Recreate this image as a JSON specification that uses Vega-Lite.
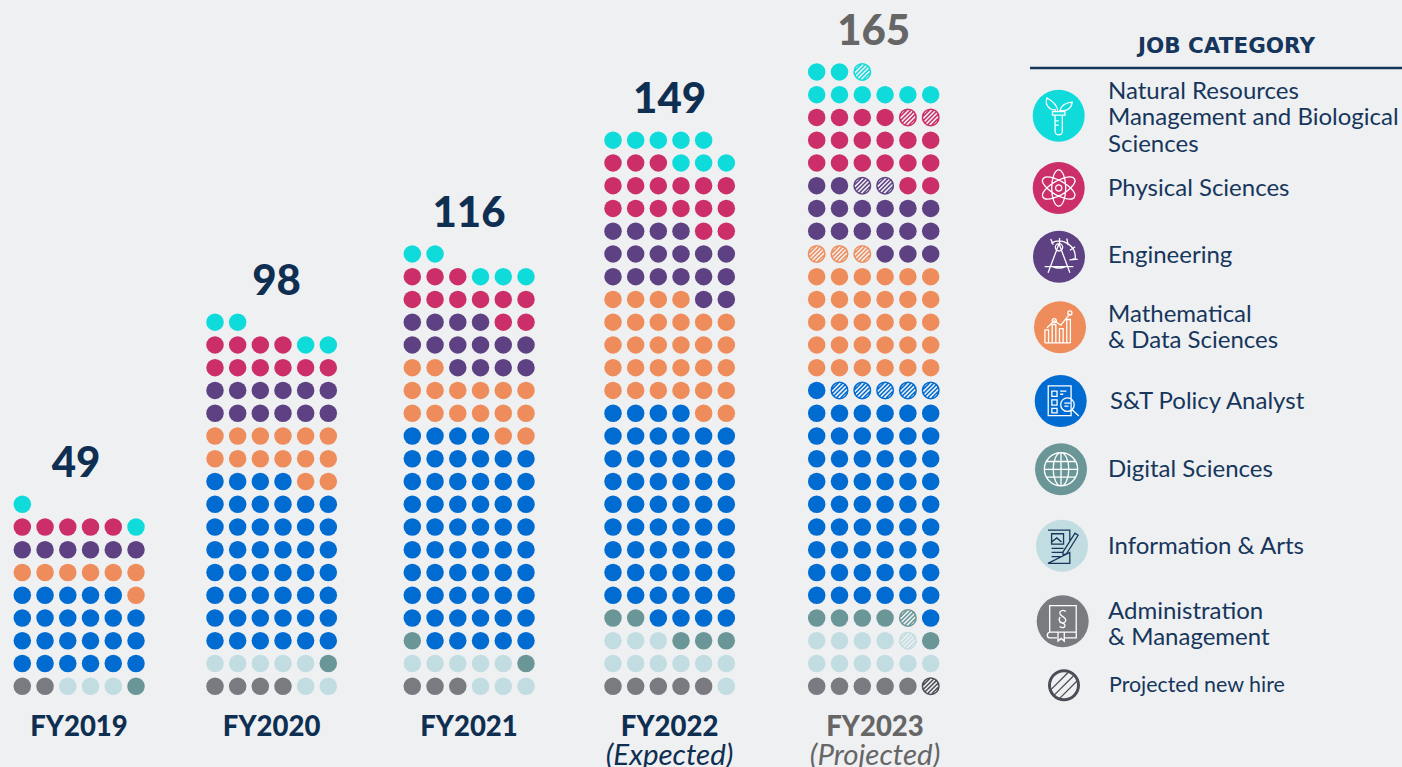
{"$schema":"https://vega.github.io/schema/vega-lite/v6.json","background":"#eff0f2","padding":0,"spacing":0,"bounds":"flush","config":{"view":{"stroke":null}},
"datasets":{"years":[{"fy":2019,"caption":"FY2019","note":""},{"fy":2020,"caption":"FY2020","note":""},{"fy":2021,"caption":"FY2021","note":""},{"fy":2022,"caption":"FY2022","note":"(Expected)"},{"fy":2023,"caption":"FY2023","note":"(Projected)"}],
"legend":[{"order":0,"job":"Nat","label":"Natural Resources|Management and Biological|Sciences"},{"order":1,"job":"Phys","label":"Physical Sciences"},{"order":2,"job":"Eng","label":"Engineering"},{"order":3,"job":"Math","label":"Mathematical|& Data Sciences"},{"order":4,"job":"Policy","label":"S&T Policy Analyst"},{"order":5,"job":"Digital","label":"Digital Sciences"},{"order":6,"job":"Info","label":"Information & Arts"},{"order":7,"job":"Admin","label":"Administration|& Management"}],
"dots":[
{"fy":2019,"col":0,"row":0,"job":"Admin"},{"fy":2019,"col":1,"row":0,"job":"Admin"},{"fy":2019,"col":2,"row":0,"job":"Info"},{"fy":2019,"col":3,"row":0,"job":"Info"},{"fy":2019,"col":4,"row":0,"job":"Info"},{"fy":2019,"col":5,"row":0,"job":"Digital"},
{"fy":2019,"col":0,"row":1,"job":"Policy"},{"fy":2019,"col":1,"row":1,"job":"Policy"},{"fy":2019,"col":2,"row":1,"job":"Policy"},{"fy":2019,"col":3,"row":1,"job":"Policy"},{"fy":2019,"col":4,"row":1,"job":"Policy"},{"fy":2019,"col":5,"row":1,"job":"Policy"},
{"fy":2019,"col":0,"row":2,"job":"Policy"},{"fy":2019,"col":1,"row":2,"job":"Policy"},{"fy":2019,"col":2,"row":2,"job":"Policy"},{"fy":2019,"col":3,"row":2,"job":"Policy"},{"fy":2019,"col":4,"row":2,"job":"Policy"},{"fy":2019,"col":5,"row":2,"job":"Policy"},
{"fy":2019,"col":0,"row":3,"job":"Policy"},{"fy":2019,"col":1,"row":3,"job":"Policy"},{"fy":2019,"col":2,"row":3,"job":"Policy"},{"fy":2019,"col":3,"row":3,"job":"Policy"},{"fy":2019,"col":4,"row":3,"job":"Policy"},{"fy":2019,"col":5,"row":3,"job":"Policy"},
{"fy":2019,"col":0,"row":4,"job":"Policy"},{"fy":2019,"col":1,"row":4,"job":"Policy"},{"fy":2019,"col":2,"row":4,"job":"Policy"},{"fy":2019,"col":3,"row":4,"job":"Policy"},{"fy":2019,"col":4,"row":4,"job":"Policy"},{"fy":2019,"col":5,"row":4,"job":"Math"},
{"fy":2019,"col":0,"row":5,"job":"Math"},{"fy":2019,"col":1,"row":5,"job":"Math"},{"fy":2019,"col":2,"row":5,"job":"Math"},{"fy":2019,"col":3,"row":5,"job":"Math"},{"fy":2019,"col":4,"row":5,"job":"Math"},{"fy":2019,"col":5,"row":5,"job":"Math"},
{"fy":2019,"col":0,"row":6,"job":"Eng"},{"fy":2019,"col":1,"row":6,"job":"Eng"},{"fy":2019,"col":2,"row":6,"job":"Eng"},{"fy":2019,"col":3,"row":6,"job":"Eng"},{"fy":2019,"col":4,"row":6,"job":"Eng"},{"fy":2019,"col":5,"row":6,"job":"Eng"},
{"fy":2019,"col":0,"row":7,"job":"Phys"},{"fy":2019,"col":1,"row":7,"job":"Phys"},{"fy":2019,"col":2,"row":7,"job":"Phys"},{"fy":2019,"col":3,"row":7,"job":"Phys"},{"fy":2019,"col":4,"row":7,"job":"Phys"},{"fy":2019,"col":5,"row":7,"job":"Nat"},
{"fy":2019,"col":0,"row":8,"job":"Nat"},
{"fy":2020,"col":0,"row":0,"job":"Admin"},{"fy":2020,"col":1,"row":0,"job":"Admin"},{"fy":2020,"col":2,"row":0,"job":"Admin"},{"fy":2020,"col":3,"row":0,"job":"Admin"},{"fy":2020,"col":4,"row":0,"job":"Info"},{"fy":2020,"col":5,"row":0,"job":"Info"},
{"fy":2020,"col":0,"row":1,"job":"Info"},{"fy":2020,"col":1,"row":1,"job":"Info"},{"fy":2020,"col":2,"row":1,"job":"Info"},{"fy":2020,"col":3,"row":1,"job":"Info"},{"fy":2020,"col":4,"row":1,"job":"Info"},{"fy":2020,"col":5,"row":1,"job":"Digital"},
{"fy":2020,"col":0,"row":2,"job":"Policy"},{"fy":2020,"col":1,"row":2,"job":"Policy"},{"fy":2020,"col":2,"row":2,"job":"Policy"},{"fy":2020,"col":3,"row":2,"job":"Policy"},{"fy":2020,"col":4,"row":2,"job":"Policy"},{"fy":2020,"col":5,"row":2,"job":"Policy"},
{"fy":2020,"col":0,"row":3,"job":"Policy"},{"fy":2020,"col":1,"row":3,"job":"Policy"},{"fy":2020,"col":2,"row":3,"job":"Policy"},{"fy":2020,"col":3,"row":3,"job":"Policy"},{"fy":2020,"col":4,"row":3,"job":"Policy"},{"fy":2020,"col":5,"row":3,"job":"Policy"},
{"fy":2020,"col":0,"row":4,"job":"Policy"},{"fy":2020,"col":1,"row":4,"job":"Policy"},{"fy":2020,"col":2,"row":4,"job":"Policy"},{"fy":2020,"col":3,"row":4,"job":"Policy"},{"fy":2020,"col":4,"row":4,"job":"Policy"},{"fy":2020,"col":5,"row":4,"job":"Policy"},
{"fy":2020,"col":0,"row":5,"job":"Policy"},{"fy":2020,"col":1,"row":5,"job":"Policy"},{"fy":2020,"col":2,"row":5,"job":"Policy"},{"fy":2020,"col":3,"row":5,"job":"Policy"},{"fy":2020,"col":4,"row":5,"job":"Policy"},{"fy":2020,"col":5,"row":5,"job":"Policy"},
{"fy":2020,"col":0,"row":6,"job":"Policy"},{"fy":2020,"col":1,"row":6,"job":"Policy"},{"fy":2020,"col":2,"row":6,"job":"Policy"},{"fy":2020,"col":3,"row":6,"job":"Policy"},{"fy":2020,"col":4,"row":6,"job":"Policy"},{"fy":2020,"col":5,"row":6,"job":"Policy"},
{"fy":2020,"col":0,"row":7,"job":"Policy"},{"fy":2020,"col":1,"row":7,"job":"Policy"},{"fy":2020,"col":2,"row":7,"job":"Policy"},{"fy":2020,"col":3,"row":7,"job":"Policy"},{"fy":2020,"col":4,"row":7,"job":"Policy"},{"fy":2020,"col":5,"row":7,"job":"Policy"},
{"fy":2020,"col":0,"row":8,"job":"Policy"},{"fy":2020,"col":1,"row":8,"job":"Policy"},{"fy":2020,"col":2,"row":8,"job":"Policy"},{"fy":2020,"col":3,"row":8,"job":"Policy"},{"fy":2020,"col":4,"row":8,"job":"Policy"},{"fy":2020,"col":5,"row":8,"job":"Policy"},
{"fy":2020,"col":0,"row":9,"job":"Policy"},{"fy":2020,"col":1,"row":9,"job":"Policy"},{"fy":2020,"col":2,"row":9,"job":"Policy"},{"fy":2020,"col":3,"row":9,"job":"Policy"},{"fy":2020,"col":4,"row":9,"job":"Math"},{"fy":2020,"col":5,"row":9,"job":"Math"},
{"fy":2020,"col":0,"row":10,"job":"Math"},{"fy":2020,"col":1,"row":10,"job":"Math"},{"fy":2020,"col":2,"row":10,"job":"Math"},{"fy":2020,"col":3,"row":10,"job":"Math"},{"fy":2020,"col":4,"row":10,"job":"Math"},{"fy":2020,"col":5,"row":10,"job":"Math"},
{"fy":2020,"col":0,"row":11,"job":"Math"},{"fy":2020,"col":1,"row":11,"job":"Math"},{"fy":2020,"col":2,"row":11,"job":"Math"},{"fy":2020,"col":3,"row":11,"job":"Math"},{"fy":2020,"col":4,"row":11,"job":"Math"},{"fy":2020,"col":5,"row":11,"job":"Math"},
{"fy":2020,"col":0,"row":12,"job":"Eng"},{"fy":2020,"col":1,"row":12,"job":"Eng"},{"fy":2020,"col":2,"row":12,"job":"Eng"},{"fy":2020,"col":3,"row":12,"job":"Eng"},{"fy":2020,"col":4,"row":12,"job":"Eng"},{"fy":2020,"col":5,"row":12,"job":"Eng"},
{"fy":2020,"col":0,"row":13,"job":"Eng"},{"fy":2020,"col":1,"row":13,"job":"Eng"},{"fy":2020,"col":2,"row":13,"job":"Eng"},{"fy":2020,"col":3,"row":13,"job":"Eng"},{"fy":2020,"col":4,"row":13,"job":"Eng"},{"fy":2020,"col":5,"row":13,"job":"Eng"},
{"fy":2020,"col":0,"row":14,"job":"Phys"},{"fy":2020,"col":1,"row":14,"job":"Phys"},{"fy":2020,"col":2,"row":14,"job":"Phys"},{"fy":2020,"col":3,"row":14,"job":"Phys"},{"fy":2020,"col":4,"row":14,"job":"Phys"},{"fy":2020,"col":5,"row":14,"job":"Phys"},
{"fy":2020,"col":0,"row":15,"job":"Phys"},{"fy":2020,"col":1,"row":15,"job":"Phys"},{"fy":2020,"col":2,"row":15,"job":"Phys"},{"fy":2020,"col":3,"row":15,"job":"Phys"},{"fy":2020,"col":4,"row":15,"job":"Nat"},{"fy":2020,"col":5,"row":15,"job":"Nat"},
{"fy":2020,"col":0,"row":16,"job":"Nat"},{"fy":2020,"col":1,"row":16,"job":"Nat"},
{"fy":2021,"col":0,"row":0,"job":"Admin"},{"fy":2021,"col":1,"row":0,"job":"Admin"},{"fy":2021,"col":2,"row":0,"job":"Admin"},{"fy":2021,"col":3,"row":0,"job":"Info"},{"fy":2021,"col":4,"row":0,"job":"Info"},{"fy":2021,"col":5,"row":0,"job":"Info"},
{"fy":2021,"col":0,"row":1,"job":"Info"},{"fy":2021,"col":1,"row":1,"job":"Info"},{"fy":2021,"col":2,"row":1,"job":"Info"},{"fy":2021,"col":3,"row":1,"job":"Info"},{"fy":2021,"col":4,"row":1,"job":"Info"},{"fy":2021,"col":5,"row":1,"job":"Digital"},
{"fy":2021,"col":0,"row":2,"job":"Digital"},{"fy":2021,"col":1,"row":2,"job":"Policy"},{"fy":2021,"col":2,"row":2,"job":"Policy"},{"fy":2021,"col":3,"row":2,"job":"Policy"},{"fy":2021,"col":4,"row":2,"job":"Policy"},{"fy":2021,"col":5,"row":2,"job":"Policy"},
{"fy":2021,"col":0,"row":3,"job":"Policy"},{"fy":2021,"col":1,"row":3,"job":"Policy"},{"fy":2021,"col":2,"row":3,"job":"Policy"},{"fy":2021,"col":3,"row":3,"job":"Policy"},{"fy":2021,"col":4,"row":3,"job":"Policy"},{"fy":2021,"col":5,"row":3,"job":"Policy"},
{"fy":2021,"col":0,"row":4,"job":"Policy"},{"fy":2021,"col":1,"row":4,"job":"Policy"},{"fy":2021,"col":2,"row":4,"job":"Policy"},{"fy":2021,"col":3,"row":4,"job":"Policy"},{"fy":2021,"col":4,"row":4,"job":"Policy"},{"fy":2021,"col":5,"row":4,"job":"Policy"},
{"fy":2021,"col":0,"row":5,"job":"Policy"},{"fy":2021,"col":1,"row":5,"job":"Policy"},{"fy":2021,"col":2,"row":5,"job":"Policy"},{"fy":2021,"col":3,"row":5,"job":"Policy"},{"fy":2021,"col":4,"row":5,"job":"Policy"},{"fy":2021,"col":5,"row":5,"job":"Policy"},
{"fy":2021,"col":0,"row":6,"job":"Policy"},{"fy":2021,"col":1,"row":6,"job":"Policy"},{"fy":2021,"col":2,"row":6,"job":"Policy"},{"fy":2021,"col":3,"row":6,"job":"Policy"},{"fy":2021,"col":4,"row":6,"job":"Policy"},{"fy":2021,"col":5,"row":6,"job":"Policy"},
{"fy":2021,"col":0,"row":7,"job":"Policy"},{"fy":2021,"col":1,"row":7,"job":"Policy"},{"fy":2021,"col":2,"row":7,"job":"Policy"},{"fy":2021,"col":3,"row":7,"job":"Policy"},{"fy":2021,"col":4,"row":7,"job":"Policy"},{"fy":2021,"col":5,"row":7,"job":"Policy"},
{"fy":2021,"col":0,"row":8,"job":"Policy"},{"fy":2021,"col":1,"row":8,"job":"Policy"},{"fy":2021,"col":2,"row":8,"job":"Policy"},{"fy":2021,"col":3,"row":8,"job":"Policy"},{"fy":2021,"col":4,"row":8,"job":"Policy"},{"fy":2021,"col":5,"row":8,"job":"Policy"},
{"fy":2021,"col":0,"row":9,"job":"Policy"},{"fy":2021,"col":1,"row":9,"job":"Policy"},{"fy":2021,"col":2,"row":9,"job":"Policy"},{"fy":2021,"col":3,"row":9,"job":"Policy"},{"fy":2021,"col":4,"row":9,"job":"Policy"},{"fy":2021,"col":5,"row":9,"job":"Policy"},
{"fy":2021,"col":0,"row":10,"job":"Policy"},{"fy":2021,"col":1,"row":10,"job":"Policy"},{"fy":2021,"col":2,"row":10,"job":"Policy"},{"fy":2021,"col":3,"row":10,"job":"Policy"},{"fy":2021,"col":4,"row":10,"job":"Policy"},{"fy":2021,"col":5,"row":10,"job":"Policy"},
{"fy":2021,"col":0,"row":11,"job":"Policy"},{"fy":2021,"col":1,"row":11,"job":"Policy"},{"fy":2021,"col":2,"row":11,"job":"Policy"},{"fy":2021,"col":3,"row":11,"job":"Policy"},{"fy":2021,"col":4,"row":11,"job":"Math"},{"fy":2021,"col":5,"row":11,"job":"Math"},
{"fy":2021,"col":0,"row":12,"job":"Math"},{"fy":2021,"col":1,"row":12,"job":"Math"},{"fy":2021,"col":2,"row":12,"job":"Math"},{"fy":2021,"col":3,"row":12,"job":"Math"},{"fy":2021,"col":4,"row":12,"job":"Math"},{"fy":2021,"col":5,"row":12,"job":"Math"},
{"fy":2021,"col":0,"row":13,"job":"Math"},{"fy":2021,"col":1,"row":13,"job":"Math"},{"fy":2021,"col":2,"row":13,"job":"Math"},{"fy":2021,"col":3,"row":13,"job":"Math"},{"fy":2021,"col":4,"row":13,"job":"Math"},{"fy":2021,"col":5,"row":13,"job":"Math"},
{"fy":2021,"col":0,"row":14,"job":"Math"},{"fy":2021,"col":1,"row":14,"job":"Math"},{"fy":2021,"col":2,"row":14,"job":"Eng"},{"fy":2021,"col":3,"row":14,"job":"Eng"},{"fy":2021,"col":4,"row":14,"job":"Eng"},{"fy":2021,"col":5,"row":14,"job":"Eng"},
{"fy":2021,"col":0,"row":15,"job":"Eng"},{"fy":2021,"col":1,"row":15,"job":"Eng"},{"fy":2021,"col":2,"row":15,"job":"Eng"},{"fy":2021,"col":3,"row":15,"job":"Eng"},{"fy":2021,"col":4,"row":15,"job":"Eng"},{"fy":2021,"col":5,"row":15,"job":"Eng"},
{"fy":2021,"col":0,"row":16,"job":"Eng"},{"fy":2021,"col":1,"row":16,"job":"Eng"},{"fy":2021,"col":2,"row":16,"job":"Eng"},{"fy":2021,"col":3,"row":16,"job":"Eng"},{"fy":2021,"col":4,"row":16,"job":"Phys"},{"fy":2021,"col":5,"row":16,"job":"Phys"},
{"fy":2021,"col":0,"row":17,"job":"Phys"},{"fy":2021,"col":1,"row":17,"job":"Phys"},{"fy":2021,"col":2,"row":17,"job":"Phys"},{"fy":2021,"col":3,"row":17,"job":"Phys"},{"fy":2021,"col":4,"row":17,"job":"Phys"},{"fy":2021,"col":5,"row":17,"job":"Phys"},
{"fy":2021,"col":0,"row":18,"job":"Phys"},{"fy":2021,"col":1,"row":18,"job":"Phys"},{"fy":2021,"col":2,"row":18,"job":"Phys"},{"fy":2021,"col":3,"row":18,"job":"Nat"},{"fy":2021,"col":4,"row":18,"job":"Nat"},{"fy":2021,"col":5,"row":18,"job":"Nat"},
{"fy":2021,"col":0,"row":19,"job":"Nat"},{"fy":2021,"col":1,"row":19,"job":"Nat"},
{"fy":2022,"col":0,"row":0,"job":"Admin"},{"fy":2022,"col":1,"row":0,"job":"Admin"},{"fy":2022,"col":2,"row":0,"job":"Admin"},{"fy":2022,"col":3,"row":0,"job":"Admin"},{"fy":2022,"col":4,"row":0,"job":"Admin"},{"fy":2022,"col":5,"row":0,"job":"Info"},
{"fy":2022,"col":0,"row":1,"job":"Info"},{"fy":2022,"col":1,"row":1,"job":"Info"},{"fy":2022,"col":2,"row":1,"job":"Info"},{"fy":2022,"col":3,"row":1,"job":"Info"},{"fy":2022,"col":4,"row":1,"job":"Info"},{"fy":2022,"col":5,"row":1,"job":"Info"},
{"fy":2022,"col":0,"row":2,"job":"Info"},{"fy":2022,"col":1,"row":2,"job":"Info"},{"fy":2022,"col":2,"row":2,"job":"Info"},{"fy":2022,"col":3,"row":2,"job":"Digital"},{"fy":2022,"col":4,"row":2,"job":"Digital"},{"fy":2022,"col":5,"row":2,"job":"Digital"},
{"fy":2022,"col":0,"row":3,"job":"Digital"},{"fy":2022,"col":1,"row":3,"job":"Digital"},{"fy":2022,"col":2,"row":3,"job":"Policy"},{"fy":2022,"col":3,"row":3,"job":"Policy"},{"fy":2022,"col":4,"row":3,"job":"Policy"},{"fy":2022,"col":5,"row":3,"job":"Policy"},
{"fy":2022,"col":0,"row":4,"job":"Policy"},{"fy":2022,"col":1,"row":4,"job":"Policy"},{"fy":2022,"col":2,"row":4,"job":"Policy"},{"fy":2022,"col":3,"row":4,"job":"Policy"},{"fy":2022,"col":4,"row":4,"job":"Policy"},{"fy":2022,"col":5,"row":4,"job":"Policy"},
{"fy":2022,"col":0,"row":5,"job":"Policy"},{"fy":2022,"col":1,"row":5,"job":"Policy"},{"fy":2022,"col":2,"row":5,"job":"Policy"},{"fy":2022,"col":3,"row":5,"job":"Policy"},{"fy":2022,"col":4,"row":5,"job":"Policy"},{"fy":2022,"col":5,"row":5,"job":"Policy"},
{"fy":2022,"col":0,"row":6,"job":"Policy"},{"fy":2022,"col":1,"row":6,"job":"Policy"},{"fy":2022,"col":2,"row":6,"job":"Policy"},{"fy":2022,"col":3,"row":6,"job":"Policy"},{"fy":2022,"col":4,"row":6,"job":"Policy"},{"fy":2022,"col":5,"row":6,"job":"Policy"},
{"fy":2022,"col":0,"row":7,"job":"Policy"},{"fy":2022,"col":1,"row":7,"job":"Policy"},{"fy":2022,"col":2,"row":7,"job":"Policy"},{"fy":2022,"col":3,"row":7,"job":"Policy"},{"fy":2022,"col":4,"row":7,"job":"Policy"},{"fy":2022,"col":5,"row":7,"job":"Policy"},
{"fy":2022,"col":0,"row":8,"job":"Policy"},{"fy":2022,"col":1,"row":8,"job":"Policy"},{"fy":2022,"col":2,"row":8,"job":"Policy"},{"fy":2022,"col":3,"row":8,"job":"Policy"},{"fy":2022,"col":4,"row":8,"job":"Policy"},{"fy":2022,"col":5,"row":8,"job":"Policy"},
{"fy":2022,"col":0,"row":9,"job":"Policy"},{"fy":2022,"col":1,"row":9,"job":"Policy"},{"fy":2022,"col":2,"row":9,"job":"Policy"},{"fy":2022,"col":3,"row":9,"job":"Policy"},{"fy":2022,"col":4,"row":9,"job":"Policy"},{"fy":2022,"col":5,"row":9,"job":"Policy"},
{"fy":2022,"col":0,"row":10,"job":"Policy"},{"fy":2022,"col":1,"row":10,"job":"Policy"},{"fy":2022,"col":2,"row":10,"job":"Policy"},{"fy":2022,"col":3,"row":10,"job":"Policy"},{"fy":2022,"col":4,"row":10,"job":"Policy"},{"fy":2022,"col":5,"row":10,"job":"Policy"},
{"fy":2022,"col":0,"row":11,"job":"Policy"},{"fy":2022,"col":1,"row":11,"job":"Policy"},{"fy":2022,"col":2,"row":11,"job":"Policy"},{"fy":2022,"col":3,"row":11,"job":"Policy"},{"fy":2022,"col":4,"row":11,"job":"Policy"},{"fy":2022,"col":5,"row":11,"job":"Policy"},
{"fy":2022,"col":0,"row":12,"job":"Policy"},{"fy":2022,"col":1,"row":12,"job":"Policy"},{"fy":2022,"col":2,"row":12,"job":"Policy"},{"fy":2022,"col":3,"row":12,"job":"Policy"},{"fy":2022,"col":4,"row":12,"job":"Math"},{"fy":2022,"col":5,"row":12,"job":"Math"},
{"fy":2022,"col":0,"row":13,"job":"Math"},{"fy":2022,"col":1,"row":13,"job":"Math"},{"fy":2022,"col":2,"row":13,"job":"Math"},{"fy":2022,"col":3,"row":13,"job":"Math"},{"fy":2022,"col":4,"row":13,"job":"Math"},{"fy":2022,"col":5,"row":13,"job":"Math"},
{"fy":2022,"col":0,"row":14,"job":"Math"},{"fy":2022,"col":1,"row":14,"job":"Math"},{"fy":2022,"col":2,"row":14,"job":"Math"},{"fy":2022,"col":3,"row":14,"job":"Math"},{"fy":2022,"col":4,"row":14,"job":"Math"},{"fy":2022,"col":5,"row":14,"job":"Math"},
{"fy":2022,"col":0,"row":15,"job":"Math"},{"fy":2022,"col":1,"row":15,"job":"Math"},{"fy":2022,"col":2,"row":15,"job":"Math"},{"fy":2022,"col":3,"row":15,"job":"Math"},{"fy":2022,"col":4,"row":15,"job":"Math"},{"fy":2022,"col":5,"row":15,"job":"Math"},
{"fy":2022,"col":0,"row":16,"job":"Math"},{"fy":2022,"col":1,"row":16,"job":"Math"},{"fy":2022,"col":2,"row":16,"job":"Math"},{"fy":2022,"col":3,"row":16,"job":"Math"},{"fy":2022,"col":4,"row":16,"job":"Math"},{"fy":2022,"col":5,"row":16,"job":"Math"},
{"fy":2022,"col":0,"row":17,"job":"Math"},{"fy":2022,"col":1,"row":17,"job":"Math"},{"fy":2022,"col":2,"row":17,"job":"Math"},{"fy":2022,"col":3,"row":17,"job":"Math"},{"fy":2022,"col":4,"row":17,"job":"Eng"},{"fy":2022,"col":5,"row":17,"job":"Eng"},
{"fy":2022,"col":0,"row":18,"job":"Eng"},{"fy":2022,"col":1,"row":18,"job":"Eng"},{"fy":2022,"col":2,"row":18,"job":"Eng"},{"fy":2022,"col":3,"row":18,"job":"Eng"},{"fy":2022,"col":4,"row":18,"job":"Eng"},{"fy":2022,"col":5,"row":18,"job":"Eng"},
{"fy":2022,"col":0,"row":19,"job":"Eng"},{"fy":2022,"col":1,"row":19,"job":"Eng"},{"fy":2022,"col":2,"row":19,"job":"Eng"},{"fy":2022,"col":3,"row":19,"job":"Eng"},{"fy":2022,"col":4,"row":19,"job":"Eng"},{"fy":2022,"col":5,"row":19,"job":"Eng"},
{"fy":2022,"col":0,"row":20,"job":"Eng"},{"fy":2022,"col":1,"row":20,"job":"Eng"},{"fy":2022,"col":2,"row":20,"job":"Eng"},{"fy":2022,"col":3,"row":20,"job":"Eng"},{"fy":2022,"col":4,"row":20,"job":"Phys"},{"fy":2022,"col":5,"row":20,"job":"Phys"},
{"fy":2022,"col":0,"row":21,"job":"Phys"},{"fy":2022,"col":1,"row":21,"job":"Phys"},{"fy":2022,"col":2,"row":21,"job":"Phys"},{"fy":2022,"col":3,"row":21,"job":"Phys"},{"fy":2022,"col":4,"row":21,"job":"Phys"},{"fy":2022,"col":5,"row":21,"job":"Phys"},
{"fy":2022,"col":0,"row":22,"job":"Phys"},{"fy":2022,"col":1,"row":22,"job":"Phys"},{"fy":2022,"col":2,"row":22,"job":"Phys"},{"fy":2022,"col":3,"row":22,"job":"Phys"},{"fy":2022,"col":4,"row":22,"job":"Phys"},{"fy":2022,"col":5,"row":22,"job":"Phys"},
{"fy":2022,"col":0,"row":23,"job":"Phys"},{"fy":2022,"col":1,"row":23,"job":"Phys"},{"fy":2022,"col":2,"row":23,"job":"Phys"},{"fy":2022,"col":3,"row":23,"job":"Nat"},{"fy":2022,"col":4,"row":23,"job":"Nat"},{"fy":2022,"col":5,"row":23,"job":"Nat"},
{"fy":2022,"col":0,"row":24,"job":"Nat"},{"fy":2022,"col":1,"row":24,"job":"Nat"},{"fy":2022,"col":2,"row":24,"job":"Nat"},{"fy":2022,"col":3,"row":24,"job":"Nat"},{"fy":2022,"col":4,"row":24,"job":"Nat"},
{"fy":2023,"col":0,"row":0,"job":"Admin"},{"fy":2023,"col":1,"row":0,"job":"Admin"},{"fy":2023,"col":2,"row":0,"job":"Admin"},{"fy":2023,"col":3,"row":0,"job":"Admin"},{"fy":2023,"col":4,"row":0,"job":"Admin"},{"fy":2023,"col":5,"row":0,"job":"Admin","new":true},
{"fy":2023,"col":0,"row":1,"job":"Info"},{"fy":2023,"col":1,"row":1,"job":"Info"},{"fy":2023,"col":2,"row":1,"job":"Info"},{"fy":2023,"col":3,"row":1,"job":"Info"},{"fy":2023,"col":4,"row":1,"job":"Info"},{"fy":2023,"col":5,"row":1,"job":"Info"},
{"fy":2023,"col":0,"row":2,"job":"Info"},{"fy":2023,"col":1,"row":2,"job":"Info"},{"fy":2023,"col":2,"row":2,"job":"Info"},{"fy":2023,"col":3,"row":2,"job":"Info"},{"fy":2023,"col":4,"row":2,"job":"Info","new":true},{"fy":2023,"col":5,"row":2,"job":"Digital"},
{"fy":2023,"col":0,"row":3,"job":"Digital"},{"fy":2023,"col":1,"row":3,"job":"Digital"},{"fy":2023,"col":2,"row":3,"job":"Digital"},{"fy":2023,"col":3,"row":3,"job":"Digital"},{"fy":2023,"col":4,"row":3,"job":"Digital","new":true},{"fy":2023,"col":5,"row":3,"job":"Policy"},
{"fy":2023,"col":0,"row":4,"job":"Policy"},{"fy":2023,"col":1,"row":4,"job":"Policy"},{"fy":2023,"col":2,"row":4,"job":"Policy"},{"fy":2023,"col":3,"row":4,"job":"Policy"},{"fy":2023,"col":4,"row":4,"job":"Policy"},{"fy":2023,"col":5,"row":4,"job":"Policy"},
{"fy":2023,"col":0,"row":5,"job":"Policy"},{"fy":2023,"col":1,"row":5,"job":"Policy"},{"fy":2023,"col":2,"row":5,"job":"Policy"},{"fy":2023,"col":3,"row":5,"job":"Policy"},{"fy":2023,"col":4,"row":5,"job":"Policy"},{"fy":2023,"col":5,"row":5,"job":"Policy"},
{"fy":2023,"col":0,"row":6,"job":"Policy"},{"fy":2023,"col":1,"row":6,"job":"Policy"},{"fy":2023,"col":2,"row":6,"job":"Policy"},{"fy":2023,"col":3,"row":6,"job":"Policy"},{"fy":2023,"col":4,"row":6,"job":"Policy"},{"fy":2023,"col":5,"row":6,"job":"Policy"},
{"fy":2023,"col":0,"row":7,"job":"Policy"},{"fy":2023,"col":1,"row":7,"job":"Policy"},{"fy":2023,"col":2,"row":7,"job":"Policy"},{"fy":2023,"col":3,"row":7,"job":"Policy"},{"fy":2023,"col":4,"row":7,"job":"Policy"},{"fy":2023,"col":5,"row":7,"job":"Policy"},
{"fy":2023,"col":0,"row":8,"job":"Policy"},{"fy":2023,"col":1,"row":8,"job":"Policy"},{"fy":2023,"col":2,"row":8,"job":"Policy"},{"fy":2023,"col":3,"row":8,"job":"Policy"},{"fy":2023,"col":4,"row":8,"job":"Policy"},{"fy":2023,"col":5,"row":8,"job":"Policy"},
{"fy":2023,"col":0,"row":9,"job":"Policy"},{"fy":2023,"col":1,"row":9,"job":"Policy"},{"fy":2023,"col":2,"row":9,"job":"Policy"},{"fy":2023,"col":3,"row":9,"job":"Policy"},{"fy":2023,"col":4,"row":9,"job":"Policy"},{"fy":2023,"col":5,"row":9,"job":"Policy"},
{"fy":2023,"col":0,"row":10,"job":"Policy"},{"fy":2023,"col":1,"row":10,"job":"Policy"},{"fy":2023,"col":2,"row":10,"job":"Policy"},{"fy":2023,"col":3,"row":10,"job":"Policy"},{"fy":2023,"col":4,"row":10,"job":"Policy"},{"fy":2023,"col":5,"row":10,"job":"Policy"},
{"fy":2023,"col":0,"row":11,"job":"Policy"},{"fy":2023,"col":1,"row":11,"job":"Policy"},{"fy":2023,"col":2,"row":11,"job":"Policy"},{"fy":2023,"col":3,"row":11,"job":"Policy"},{"fy":2023,"col":4,"row":11,"job":"Policy"},{"fy":2023,"col":5,"row":11,"job":"Policy"},
{"fy":2023,"col":0,"row":12,"job":"Policy"},{"fy":2023,"col":1,"row":12,"job":"Policy"},{"fy":2023,"col":2,"row":12,"job":"Policy"},{"fy":2023,"col":3,"row":12,"job":"Policy"},{"fy":2023,"col":4,"row":12,"job":"Policy"},{"fy":2023,"col":5,"row":12,"job":"Policy"},
{"fy":2023,"col":0,"row":13,"job":"Policy"},{"fy":2023,"col":1,"row":13,"job":"Policy","new":true},{"fy":2023,"col":2,"row":13,"job":"Policy","new":true},{"fy":2023,"col":3,"row":13,"job":"Policy","new":true},{"fy":2023,"col":4,"row":13,"job":"Policy","new":true},{"fy":2023,"col":5,"row":13,"job":"Policy","new":true},
{"fy":2023,"col":0,"row":14,"job":"Math"},{"fy":2023,"col":1,"row":14,"job":"Math"},{"fy":2023,"col":2,"row":14,"job":"Math"},{"fy":2023,"col":3,"row":14,"job":"Math"},{"fy":2023,"col":4,"row":14,"job":"Math"},{"fy":2023,"col":5,"row":14,"job":"Math"},
{"fy":2023,"col":0,"row":15,"job":"Math"},{"fy":2023,"col":1,"row":15,"job":"Math"},{"fy":2023,"col":2,"row":15,"job":"Math"},{"fy":2023,"col":3,"row":15,"job":"Math"},{"fy":2023,"col":4,"row":15,"job":"Math"},{"fy":2023,"col":5,"row":15,"job":"Math"},
{"fy":2023,"col":0,"row":16,"job":"Math"},{"fy":2023,"col":1,"row":16,"job":"Math"},{"fy":2023,"col":2,"row":16,"job":"Math"},{"fy":2023,"col":3,"row":16,"job":"Math"},{"fy":2023,"col":4,"row":16,"job":"Math"},{"fy":2023,"col":5,"row":16,"job":"Math"},
{"fy":2023,"col":0,"row":17,"job":"Math"},{"fy":2023,"col":1,"row":17,"job":"Math"},{"fy":2023,"col":2,"row":17,"job":"Math"},{"fy":2023,"col":3,"row":17,"job":"Math"},{"fy":2023,"col":4,"row":17,"job":"Math"},{"fy":2023,"col":5,"row":17,"job":"Math"},
{"fy":2023,"col":0,"row":18,"job":"Math"},{"fy":2023,"col":1,"row":18,"job":"Math"},{"fy":2023,"col":2,"row":18,"job":"Math"},{"fy":2023,"col":3,"row":18,"job":"Math"},{"fy":2023,"col":4,"row":18,"job":"Math"},{"fy":2023,"col":5,"row":18,"job":"Math"},
{"fy":2023,"col":0,"row":19,"job":"Math","new":true},{"fy":2023,"col":1,"row":19,"job":"Math","new":true},{"fy":2023,"col":2,"row":19,"job":"Math","new":true},{"fy":2023,"col":3,"row":19,"job":"Eng"},{"fy":2023,"col":4,"row":19,"job":"Eng"},{"fy":2023,"col":5,"row":19,"job":"Eng"},
{"fy":2023,"col":0,"row":20,"job":"Eng"},{"fy":2023,"col":1,"row":20,"job":"Eng"},{"fy":2023,"col":2,"row":20,"job":"Eng"},{"fy":2023,"col":3,"row":20,"job":"Eng"},{"fy":2023,"col":4,"row":20,"job":"Eng"},{"fy":2023,"col":5,"row":20,"job":"Eng"},
{"fy":2023,"col":0,"row":21,"job":"Eng"},{"fy":2023,"col":1,"row":21,"job":"Eng"},{"fy":2023,"col":2,"row":21,"job":"Eng"},{"fy":2023,"col":3,"row":21,"job":"Eng"},{"fy":2023,"col":4,"row":21,"job":"Eng"},{"fy":2023,"col":5,"row":21,"job":"Eng"},
{"fy":2023,"col":0,"row":22,"job":"Eng"},{"fy":2023,"col":1,"row":22,"job":"Eng"},{"fy":2023,"col":2,"row":22,"job":"Eng","new":true},{"fy":2023,"col":3,"row":22,"job":"Eng","new":true},{"fy":2023,"col":4,"row":22,"job":"Phys"},{"fy":2023,"col":5,"row":22,"job":"Phys"},
{"fy":2023,"col":0,"row":23,"job":"Phys"},{"fy":2023,"col":1,"row":23,"job":"Phys"},{"fy":2023,"col":2,"row":23,"job":"Phys"},{"fy":2023,"col":3,"row":23,"job":"Phys"},{"fy":2023,"col":4,"row":23,"job":"Phys"},{"fy":2023,"col":5,"row":23,"job":"Phys"},
{"fy":2023,"col":0,"row":24,"job":"Phys"},{"fy":2023,"col":1,"row":24,"job":"Phys"},{"fy":2023,"col":2,"row":24,"job":"Phys"},{"fy":2023,"col":3,"row":24,"job":"Phys"},{"fy":2023,"col":4,"row":24,"job":"Phys"},{"fy":2023,"col":5,"row":24,"job":"Phys"},
{"fy":2023,"col":0,"row":25,"job":"Phys"},{"fy":2023,"col":1,"row":25,"job":"Phys"},{"fy":2023,"col":2,"row":25,"job":"Phys"},{"fy":2023,"col":3,"row":25,"job":"Phys"},{"fy":2023,"col":4,"row":25,"job":"Phys","new":true},{"fy":2023,"col":5,"row":25,"job":"Phys","new":true},
{"fy":2023,"col":0,"row":26,"job":"Nat"},{"fy":2023,"col":1,"row":26,"job":"Nat"},{"fy":2023,"col":2,"row":26,"job":"Nat"},{"fy":2023,"col":3,"row":26,"job":"Nat"},{"fy":2023,"col":4,"row":26,"job":"Nat"},{"fy":2023,"col":5,"row":26,"job":"Nat"},
{"fy":2023,"col":0,"row":27,"job":"Nat"},{"fy":2023,"col":1,"row":27,"job":"Nat"},{"fy":2023,"col":2,"row":27,"job":"Nat","new":true}
]},
"hconcat":[
{"width":1020,"height":767,"resolve":{"scale":{"x":"independent"}},
"layer":[
{"data":{"name":"dots"},"transform":[{"filter":"datum.fy==2019"}],"mark":{"type":"circle","size":306,"opacity":1},
"encoding":{"x":{"field":"col","type":"quantitative","axis":null,"scale":{"domain":[0,5],"range":[22.3,136],"zero":false,"nice":false}},
"y":{"field":"row","type":"quantitative","axis":null,"scale":{"domain":[-3.55,30.16],"zero":false,"nice":false}},
"color":{"field":"job","type":"nominal","legend":null,"scale":{"domain":["Nat","Phys","Eng","Math","Policy","Digital","Info","Admin"],"range":["#0fdbdb","#cc2e69","#5d4183","#ee8d5b","#006bd1","#6b9698","#c1dde2","#7a7b81"]}}}},
{"data":{"name":"dots"},"transform":[{"filter":"datum.fy==2020"}],"mark":{"type":"circle","size":306,"opacity":1},
"encoding":{"x":{"field":"col","type":"quantitative","axis":null,"scale":{"domain":[0,5],"range":[215,328.3],"zero":false,"nice":false}},"y":{"field":"row","type":"quantitative","axis":null},"color":{"field":"job","type":"nominal","legend":null}}},
{"data":{"name":"dots"},"transform":[{"filter":"datum.fy==2021"}],"mark":{"type":"circle","size":306,"opacity":1},
"encoding":{"x":{"field":"col","type":"quantitative","axis":null,"scale":{"domain":[0,5],"range":[412.3,526],"zero":false,"nice":false}},"y":{"field":"row","type":"quantitative","axis":null},"color":{"field":"job","type":"nominal","legend":null}}},
{"data":{"name":"dots"},"transform":[{"filter":"datum.fy==2022"}],"mark":{"type":"circle","size":306,"opacity":1},
"encoding":{"x":{"field":"col","type":"quantitative","axis":null,"scale":{"domain":[0,5],"range":[613,726.3],"zero":false,"nice":false}},"y":{"field":"row","type":"quantitative","axis":null},"color":{"field":"job","type":"nominal","legend":null}}},
{"data":{"name":"dots"},"transform":[{"filter":"datum.fy==2023 && !datum.new"}],"mark":{"type":"circle","size":306,"opacity":1},
"encoding":{"x":{"field":"col","type":"quantitative","axis":null,"scale":{"domain":[0,5],"range":[816.7,930.7],"zero":false,"nice":false}},"y":{"field":"row","type":"quantitative","axis":null},"color":{"field":"job","type":"nominal","legend":null}}},
{"data":{"name":"dots"},"transform":[{"filter":"datum.fy==2023 && datum.new"}],"mark":{"type":"point","filled":false,"size":272,"opacity":1,"strokeWidth":1.5,"shape":"M-1,0 A1,1 0 1,1 1,0 A1,1 0 1,1 -1,0 Z M-.65,.65 L.65,-.65 M-.336,.856 L.856,-.336 M-.856,.336 L.336,-.856 M.13,.91 L.91,.13 M-.91,-.13 L-.13,-.91"},
"encoding":{"x":{"field":"col","type":"quantitative","axis":null,"scale":{"domain":[0,5],"range":[816.7,930.7],"zero":false,"nice":false}},"y":{"field":"row","type":"quantitative","axis":null},
"stroke":{"field":"job","type":"nominal","legend":null,"scale":{"domain":["Nat","Phys","Eng","Math","Policy","Digital","Info","Admin"],"range":["#0fdbdb","#cc2e69","#5d4183","#ee8d5b","#006bd1","#6b9698","#c1dde2","#4d4d57"]}}}},
{"data":{"name":"dots"},"transform":[{"filter":"datum.fy==2019"}],"mark":{"type":"text","font":"Lato","fontWeight":900,"fontSize":42,"dy":-40,"dx":-3,"baseline":"middle"},
"encoding":{"x":{"field":"fy","type":"quantitative","axis":null,"scale":{"domain":[2019,2020,2021,2022,2023],"range":[79,271.6,469,669.6,873.7],"zero":false,"nice":false}},"y":{"aggregate":"max","field":"row","type":"quantitative","axis":null},"text":{"aggregate":"count"},"color":{"value":"#0f2f52"}}},
{"data":{"name":"dots"},"transform":[{"filter":"datum.fy==2020"}],"mark":{"type":"text","font":"Lato","fontWeight":900,"fontSize":42,"dy":-40,"dx":5,"baseline":"middle"},
"encoding":{"x":{"field":"fy","type":"quantitative","axis":null,"scale":{"domain":[2019,2020,2021,2022,2023],"range":[79,271.6,469,669.6,873.7],"zero":false,"nice":false}},"y":{"aggregate":"max","field":"row","type":"quantitative","axis":null},"text":{"aggregate":"count"},"color":{"value":"#0f2f52"}}},
{"data":{"name":"dots"},"transform":[{"filter":"datum.fy>2020"}],"mark":{"type":"text","font":"Lato","fontWeight":900,"fontSize":42,"dy":-40,"baseline":"middle"},
"encoding":{"x":{"field":"fy","type":"quantitative","axis":null,"scale":{"domain":[2019,2020,2021,2022,2023],"range":[79,271.6,469,669.6,873.7],"zero":false,"nice":false}},"y":{"aggregate":"max","field":"row","type":"quantitative","axis":null},"text":{"aggregate":"count"},"color":{"condition":{"test":"datum.fy==2023","value":"#666666"},"value":"#0f2f52"}}},
{"data":{"name":"years"},"mark":{"type":"text","font":"Lato","fontWeight":900,"fontSize":27.5,"baseline":"middle"},
"encoding":{"x":{"field":"fy","type":"quantitative","axis":null,"scale":{"domain":[2019,2020,2021,2022,2023],"range":[79,271.6,469,669.6,875],"zero":false,"nice":false}},"y":{"datum":-1.82},"text":{"field":"caption"},"color":{"condition":{"test":"datum.fy==2023","value":"#666666"},"value":"#0f2f52"}}},
{"data":{"name":"years"},"mark":{"type":"text","font":"Lato","fontStyle":"italic","fontSize":29.5,"baseline":"middle"},
"encoding":{"x":{"field":"fy","type":"quantitative","axis":null,"scale":{"domain":[2019,2020,2021,2022,2023],"range":[79,271.6,469,669.6,875],"zero":false,"nice":false}},"y":{"datum":-3.07},"text":{"field":"note"},"color":{"condition":{"test":"datum.fy==2023","value":"#666666"},"value":"#0f2f52"}}}
]},
{"width":382,"height":767,"resolve":{"scale":{"x":"independent","y":"independent","shape":"independent"}},
"layer":[
{"data":{"values":[{"title":"JOB CATEGORY"}]},"mark":{"type":"text","font":"DejaVu Sans","fontWeight":"bold","fontSize":21.5,"color":"#16365c","baseline":"middle"},"encoding":{"x":{"value":206.5},"y":{"value":47},"text":{"field":"title"}}},
{"data":{"values":[{"title":"JOB CATEGORY"}]},"mark":{"type":"rule","color":"#16365c","strokeWidth":2.5},"encoding":{"x":{"value":10},"x2":{"value":382},"y":{"value":68}}},
{"data":{"name":"legend"},"mark":{"type":"circle","size":2704,"opacity":1},
"encoding":{"x":{"field":"order","type":"quantitative","axis":null,"scale":{"domain":[0,1,2,3,4,5,6,7],"range":[38.7,38.7,39,40,40.7,41,42,42.7],"zero":false,"nice":false}},
"y":{"field":"order","type":"quantitative","axis":null,"scale":{"domain":[0,1,2,3,4,5,6,7],"range":[115.7,188,256.7,327.3,401,469.3,545.7,621.3],"zero":false,"nice":false}},
"color":{"field":"job","type":"nominal","legend":null,"scale":{"domain":["Nat","Phys","Eng","Math","Policy","Digital","Info","Admin"],"range":["#0fdbdb","#cc2e69","#5d4183","#ee8d5b","#006bd1","#6b9698","#c1dde2","#7a7b81"]}}}},
{"data":{"name":"legend"},"mark":{"type":"point","size":2704,"opacity":1,"filled":false,"strokeWidth":1.3},
"encoding":{"x":{"field":"order","type":"quantitative","axis":null,"scale":{"domain":[0,1,2,3,4,5,6,7],"range":[38.7,38.7,39,40,40.7,41,42,42.7],"zero":false,"nice":false}},
"y":{"field":"order","type":"quantitative","axis":null,"scale":{"domain":[0,1,2,3,4,5,6,7],"range":[115.7,188,256.7,327.3,401,469.3,545.7,621.3],"zero":false,"nice":false}},
"stroke":{"condition":{"test":"datum.job=='Info'","value":"#16365c"},"value":"#ffffff"},
"shape":{"field":"job","type":"nominal","legend":null,"scale":{"domain":["Nat","Phys","Eng","Math","Policy","Digital","Info","Admin"],"range":[
"M-.14,-.02 L-.14,.6 A.14,.14 0 0 0 .14,.6 L.14,-.02 M-.24,-.16 H.24 V-.02 H-.24 Z M-.14,.2 H0 M-.14,.36 H0 M-.03,-.16 C-.05,-.35 -.2,-.55 -.45,-.68 C-.55,-.4 -.35,-.2 -.1,-.22 M.03,-.16 C.08,-.35 .25,-.5 .52,-.52 C.5,-.3 .3,-.15 .07,-.2",
"M0,-.7 A.7,.27 90 1 1 0,.7 A.7,.27 90 1 1 0,-.7 Z M-.606,-.35 A.7,.27 30 1 1 .606,.35 A.7,.27 30 1 1 -.606,-.35 Z M-.606,.35 A.7,.27 -30 1 1 .606,-.35 A.7,.27 -30 1 1 -.606,.35 Z M.12,0 A.12,.12 0 1 1 -.12,0 A.12,.12 0 1 1 .12,0 Z",
"M-.3,-.52 A.62,.62 0 0 1 .62,.1 L.4,.12 M.3,-.7 L.35,-.45 M.62,-.38 L.42,-.25 M.72,.1 L.52,.08 M-.32,-.68 L-.22,-.46 M.02,-.72 V-.52 M0,-.5 L-.42,.62 M0,-.5 L.42,.62 M0,-.5 A.14,.14 0 1 1 0,-.22 A.14,.14 0 1 1 0,-.5 Z M-.55,.38 H.55 M-.25,.38 A.6,.6 0 0 0 .25,.38",
"M-.58,.6 V.1 H-.44 V.6 M-.3,.6 V-.1 H-.16 V.6 M-.02,.6 V.05 H.12 V.6 M.26,.6 V-.3 H.4 V.6 M-.58,.6 H.4 M-.5,.02 L-.22,-.25 L.03,-.08 L.38,-.52 M.46,-.55 A.08,.08 0 1 1 .3,-.55 A.08,.08 0 1 1 .46,-.55 Z M-.14,-.25 A.08,.08 0 1 1 -.3,-.25 A.08,.08 0 1 1 -.14,-.25 Z",
"M-.48,-.58 H.4 V.56 H-.48 Z M-.34,-.38 H-.14 V-.18 H-.34 Z M-.34,-.04 H-.14 V.16 H-.34 Z M-.34,.28 H-.14 V.46 H-.34 Z M-.02,-.38 H.22 M-.02,-.26 H.1 M.52,.14 A.26,.26 0 1 1 0,.14 A.26,.26 0 1 1 .52,.14 Z M.44,.34 L.7,.58 M.14,.08 H.36 M.14,.2 H.3",
"M.64,0 A.64,.64 0 1 1 -.64,0 A.64,.64 0 1 1 .64,0 Z M0,-.64 A.3,.64 0 0 0 0,.64 A.3,.64 0 0 0 0,-.64 Z M-.56,-.3 H.56 M-.56,.3 H.56 M-.64,0 H.64 M0,-.64 V.64",
"M-.54,-.6 H.3 V-.2 M.3,.26 V.68 H-.54 Z M-.4,-.46 H.06 V-.06 H-.4 Z M-.4,-.14 L-.2,-.3 L-.02,-.14 M-.4,.1 H.06 M-.4,.26 H.06 M-.4,.42 H-.06 M.04,.24 L.5,-.48 L.62,-.4 L.18,.3 L.04,.36 Z",
"M-.5,.42 V-.6 H.52 V.42 Z M-.5,.42 C-.62,.44 -.62,.64 -.5,.64 H-.22 M.52,.42 V.64 H.08 M-.18,.42 V.76 L-.06,.66 L.06,.76 V.42 M.12,-.38 C0,-.46 -.14,-.4 -.1,-.28 C-.06,-.18 .12,-.16 .12,-.04 C.12,.06 -.04,.1 -.12,.02 M-.1,-.16 C-.2,-.04 -.08,.06 .06,.1 C.14,.2 .04,.3 -.12,.2"
]}}}},
{"data":{"values":[{"item":"new"}]},"mark":{"type":"point","size":841,"opacity":1,"filled":false,"strokeWidth":3,"stroke":"#4d4d57","shape":"circle"},
"encoding":{"x":{"value":44},"y":{"value":685.3}}},
{"data":{"values":[{"item":"new"}]},"mark":{"type":"point","size":841,"opacity":1,"filled":false,"strokeWidth":1.3,"stroke":"#4d4d57","shape":"M-.66,.66 L.66,-.66 M-.9,.3 L.3,-.9 M-.3,.9 L.9,-.3"},
"encoding":{"x":{"value":44},"y":{"value":685.3}}},
{"data":{"name":"legend"},"mark":{"type":"text","font":"Lato","fontSize":24,"lineBreak":"|","lineHeight":26.4,"align":"left","baseline":"middle","color":"#16365c"},
"encoding":{"x":{"field":"order","type":"quantitative","axis":null,"scale":{"domain":[0,3,4,5,7],"range":[88,88,90,88,88],"zero":false,"nice":false}},
"y":{"field":"order","type":"quantitative","axis":null,"scale":{"domain":[0,1,2,3,4,5,6,7],"range":[92,189,255.5,315,402,470,547,612],"zero":false,"nice":false}},
"text":{"field":"label"}}},
{"data":{"values":[{"label":"Projected new hire"}]},"mark":{"type":"text","font":"Lato","fontSize":21.4,"align":"left","baseline":"middle","color":"#16365c"},
"encoding":{"x":{"value":89},"y":{"value":685.5},"text":{"field":"label"}}}
]}
]}
